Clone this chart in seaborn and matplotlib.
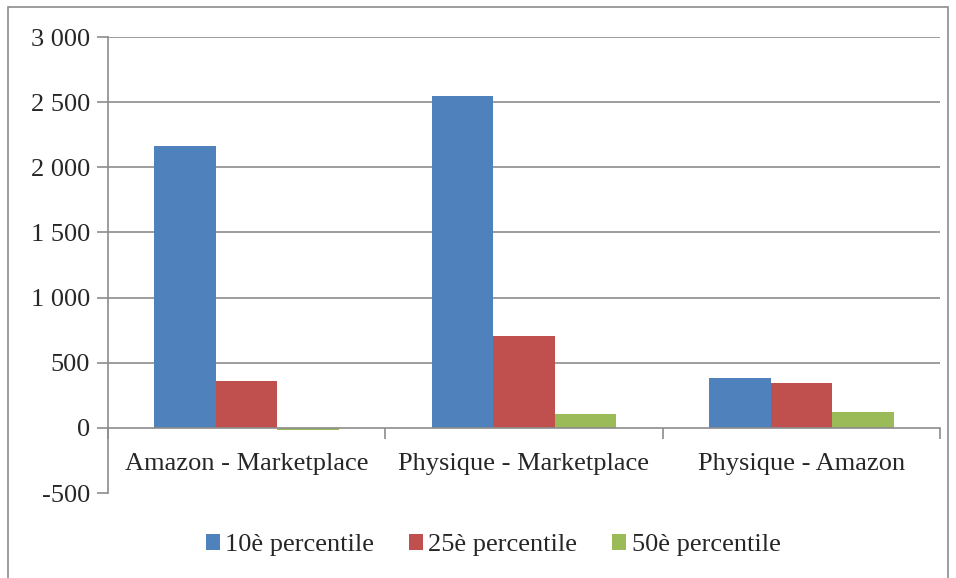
import matplotlib
matplotlib.use("Agg")
import matplotlib.pyplot as plt
import seaborn as sns
import pandas as pd
from matplotlib.ticker import FixedLocator, FuncFormatter
from matplotlib.patches import Rectangle

# data
categories = ["Amazon - Marketplace", "Physique - Marketplace", "Physique - Amazon"]
series = ["10è percentile", "25è percentile", "50è percentile"]
p10 = [2160, 2545, 385]
p25 = [362, 708, 348]
p50 = [-15, 108, 123]
colors = ["#4F81BD", "#C0504D", "#9BBB59"]
yticks = list(range(-500, 3001, 500))

df = pd.DataFrame({
    "cat": categories * 3,
    "serie": [series[0]] * 3 + [series[1]] * 3 + [series[2]] * 3,
    "val": p10 + p25 + p50,
})

sns.set_style("white")
plt.rcParams["font.family"] = ["Liberation Serif", "DejaVu Serif"]
plt.rcParams["font.size"] = 19

grey = "#8c8c8c"
fig = plt.figure(figsize=(9.56, 5.78), dpi=100)
ax = fig.add_axes([108 / 956, 1 - 493 / 578, 832 / 956, 456 / 578])

sns.barplot(data=df, x="cat", y="val", hue="serie", palette=colors,
            width=0.665, gap=0, saturation=1, linewidth=0, ax=ax, zorder=3)

ax.set_ylim(-500, 3000)
ax.set_xlim(-0.5, 2.5)
ax.set_yticks(yticks)
ax.yaxis.set_major_formatter(FuncFormatter(lambda v, p: f"{int(v):,}".replace(",", " ")))
ax.grid(False)
for v in yticks:
    if v > 0:
        ax.axhline(v, color=grey, linewidth=1.2, zorder=0)
ax.set_xlabel("")
ax.set_ylabel("")

for s in ["top", "right"]:
    ax.spines[s].set_visible(False)
ax.spines["left"].set_color(grey)
ax.spines["left"].set_linewidth(1.2)
ax.spines["bottom"].set_position(("data", 0))
ax.spines["bottom"].set_color(grey)
ax.spines["bottom"].set_linewidth(1.2)
ax.spines["bottom"].set_zorder(4)

ax.tick_params(axis="y", direction="out", length=8, color=grey, width=1.2, left=True, pad=5)
ax.tick_params(axis="x", which="major", length=0, pad=18)
ax.xaxis.set_minor_locator(FixedLocator([-0.5, 0.5, 1.5, 2.5]))
ax.tick_params(axis="x", which="minor", direction="out", length=8, color=grey, width=1.2, bottom=True)

ax.legend(loc="center", bbox_to_anchor=(493 / 956, 1 - 545 / 578), bbox_transform=fig.transFigure,
          ncol=3, frameon=False, handlelength=0.55, handleheight=0.55, handletextpad=0.2,
          columnspacing=1.3, fontsize=19)

# outer chart border
fig.patches.append(Rectangle((8 / 956, -0.01), 1 - 16 / 956, 1 - 7 / 578 + 0.01, transform=fig.transFigure,
                             fill=False, edgecolor=grey, linewidth=1.2))

plt.savefig("out.png", dpi=100)
